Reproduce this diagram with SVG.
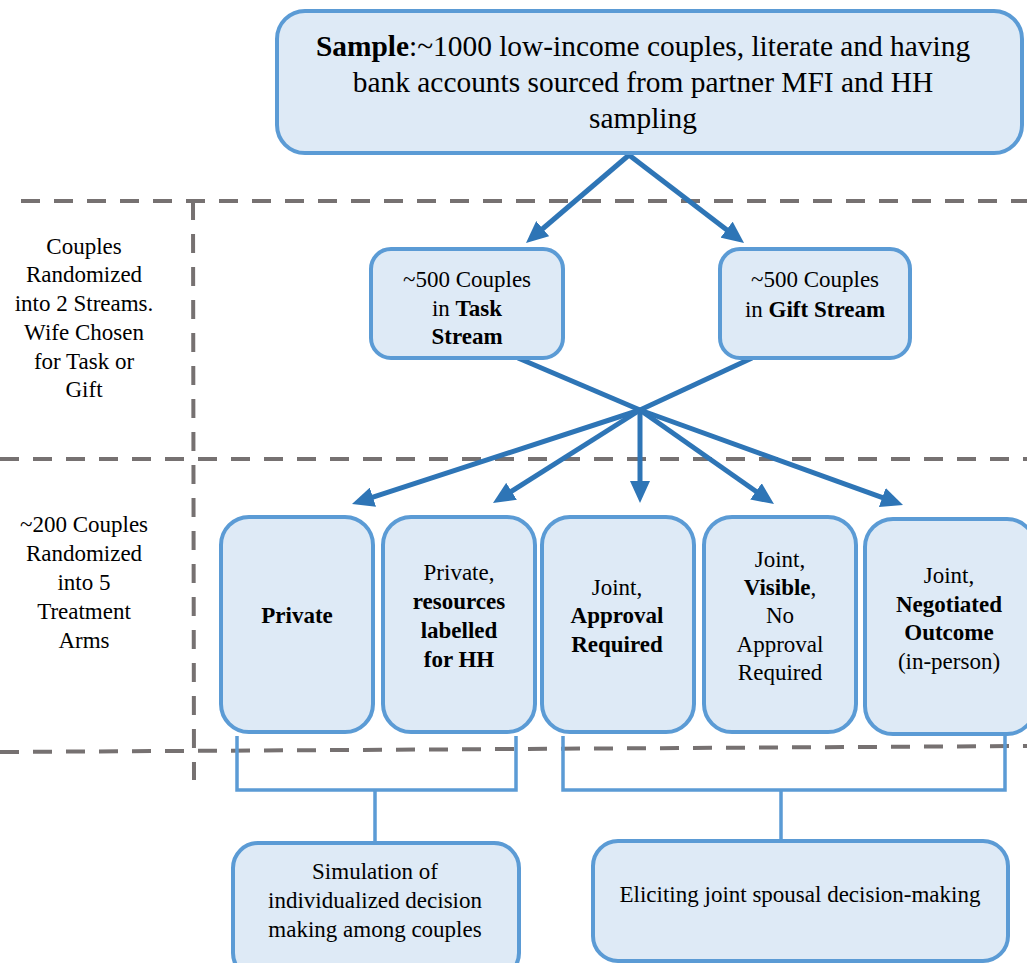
<svg xmlns="http://www.w3.org/2000/svg" width="1027" height="963" viewBox="0 0 1027 963">
<style>
.box{fill:#DEEAF6;stroke:#5B9BD5;stroke-width:4}
.t{font-family:"Liberation Serif","Times New Roman",serif;font-size:23px;fill:#000;text-anchor:middle}
.big{font-size:29.4px}
.b{font-weight:bold}
.dash{stroke:#767171;stroke-width:4;stroke-dasharray:19 14;fill:none}
.arr{stroke:#2E75B6;stroke-width:5;fill:none}
.brk{stroke:#5B9BD5;stroke-width:3.5;fill:none}
</style>
<defs>
<marker id="ah" markerUnits="userSpaceOnUse" viewBox="0 0 22 20" markerWidth="22" markerHeight="20" refX="12" refY="10" orient="auto">
<path d="M0,0 L22,10 L0,20 z" fill="#2E75B6"/>
</marker>
</defs>
<rect width="1027" height="963" fill="#fff"/>
<g id="guides">
<line class="dash" x1="21" y1="201" x2="1027" y2="201"/>
<line class="dash" x1="193" y1="201" x2="194" y2="780"/>
<line class="dash" x1="0" y1="459" x2="1027" y2="459"/>
<line class="dash" x1="0" y1="752" x2="1027" y2="746"/>
</g>
<g id="labels">
<text class="t" x="84"><tspan x="84" y="254">Couples</tspan><tspan x="84" y="282">Randomized</tspan><tspan x="84" y="311">into 2 Streams.</tspan><tspan x="84" y="340">Wife Chosen</tspan><tspan x="84" y="369">for Task or</tspan><tspan x="84" y="397">Gift</tspan></text>
<text class="t" x="84"><tspan x="84" y="532">~200 Couples</tspan><tspan x="84" y="561">Randomized</tspan><tspan x="84" y="590">into 5</tspan><tspan x="84" y="619">Treatment</tspan><tspan x="84" y="648">Arms</tspan></text>
</g>
<g id="connectors">
<line class="arr" x1="629" y1="155" x2="533.6" y2="236.5" marker-end="url(#ah)"/>
<line class="arr" x1="629" y1="155" x2="736.1" y2="236.9" marker-end="url(#ah)"/>
<line class="arr" x1="518" y1="358" x2="640" y2="410"/>
<line class="arr" x1="752" y1="358" x2="640" y2="410"/>
<line class="arr" x1="640" y1="410" x2="361.5" y2="500.9" marker-end="url(#ah)"/>
<line class="arr" x1="640" y1="410" x2="501.4" y2="497.7" marker-end="url(#ah)"/>
<line class="arr" x1="640" y1="410" x2="640" y2="493" marker-end="url(#ah)"/>
<line class="arr" x1="640" y1="410" x2="765.8" y2="498.3" marker-end="url(#ah)"/>
<line class="arr" x1="640" y1="410" x2="893.6" y2="501.6" marker-end="url(#ah)"/>
<path class="brk" d="M237,736 V790 H516 V736 M375,790 V843"/>
<path class="brk" d="M563,736 V790 H1005 V736 M781,790 V841"/>
</g>
<g id="sample">
<rect class="box" x="277" y="11" width="745" height="142" rx="28"/>
<text class="t big" x="643" y="56"><tspan class="b">Sample</tspan>:~1000 low-income couples, literate and having</text>
<text class="t big" x="643" y="92">bank accounts sourced from partner MFI and HH</text>
<text class="t big" x="643" y="128">sampling</text>
</g>
<g id="task">
<rect class="box" x="371" y="249" width="192" height="109" rx="20"/>
<text class="t" x="467" y="287">~500 Couples</text>
<text class="t" x="467" y="316">in <tspan class="b">Task</tspan></text>
<text class="t b" x="467" y="344">Stream</text>
</g>
<g id="gift">
<rect class="box" x="720" y="249" width="190" height="109" rx="20"/>
<text class="t" x="815" y="287">~500 Couples</text>
<text class="t" x="815" y="317">in <tspan class="b">Gift Stream</tspan></text>
</g>
<g id="private">
<rect class="box" x="221" y="517" width="152" height="215" rx="28"/>
<text class="t b" x="297" y="623">Private</text>
</g>
<g id="private-hh">
<rect class="box" x="383" y="517" width="152" height="215" rx="28"/>
<text class="t" x="459" y="580">Private,</text>
<text class="t b" x="459" y="609">resources</text>
<text class="t b" x="459" y="638">labelled</text>
<text class="t b" x="459" y="667">for HH</text>
</g>
<g id="joint-approval">
<rect class="box" x="542" y="517" width="152" height="215" rx="28"/>
<text class="t" x="617" y="595">Joint,</text>
<text class="t b" x="617" y="623">Approval</text>
<text class="t b" x="617" y="652">Required</text>
</g>
<g id="joint-visible">
<rect class="box" x="704" y="517" width="152" height="215" rx="28"/>
<text class="t" x="780" y="567">Joint,</text>
<text class="t" x="780" y="595"><tspan class="b">Visible</tspan>,</text>
<text class="t" x="780" y="623">No</text>
<text class="t" x="780" y="652">Approval</text>
<text class="t" x="780" y="680">Required</text>
</g>
<g id="joint-negotiated">
<rect class="box" x="865" y="519" width="170" height="215" rx="28"/>
<text class="t" x="949" y="583">Joint,</text>
<text class="t b" x="949" y="612">Negotiated</text>
<text class="t b" x="949" y="640">Outcome</text>
<text class="t" x="949" y="669">(in-person)</text>
</g>
<g id="individual">
<rect class="box" x="233" y="843" width="286" height="135" rx="25"/>
<text class="t" x="375" y="879">Simulation of</text>
<text class="t" x="375" y="908">individualized decision</text>
<text class="t" x="375" y="937">making among couples</text>
</g>
<g id="joint">
<rect class="box" x="593" y="841" width="415" height="120" rx="25"/>
<text class="t" x="800" y="902">Eliciting joint spousal decision-making</text>
</g>
</svg>
